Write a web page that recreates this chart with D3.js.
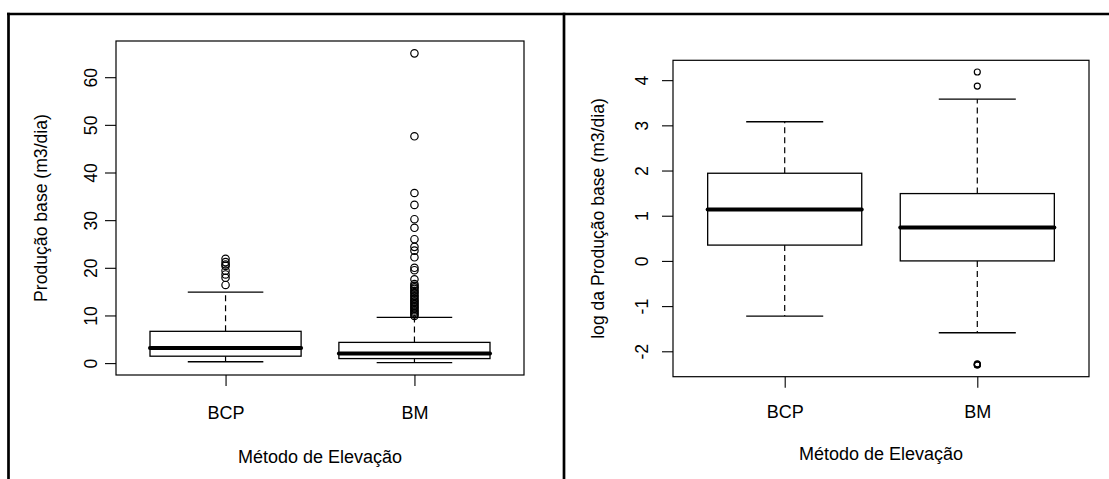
<!DOCTYPE html>
<html>
<head>
<meta charset="utf-8">
<script src="https://cdn.jsdelivr.net/npm/d3@7"></script>
<style>
  body { margin: 0; background: #fff; }
  svg { display: block; }
  text { font-family: "Liberation Sans", Arial, Helvetica, sans-serif; fill: #000; }
</style>
</head>
<body>
<svg id="chart" width="1109" height="479"></svg>
<script>
// Lift methods
const categories = ["BCP", "BM"];

// Base production (m3/dia): [lower whisker, Q1, median, Q3, upper whisker]
const rawStats = [
  [0.28, 1.45, 3.16, 6.67, 14.9],
  [0.1, 0.95, 2.04, 4.35, 9.6]
];
const rawOutliers = [
  [21.9, 21.2, 20.7, 20.4, 19.4, 18.6, 17.9, 16.4],
  [65.0, 47.6, 35.7, 33.2, 30.2, 28.4, 26.0, 24.4, 23.6, 22.2, 20.0, 19.5,
   17.6, 16.6, 16.2, 15.9, 15.6, 15.2, 14.9, 14.6, 14.2, 13.9, 13.5, 13.2,
   12.9, 12.6, 12.3, 12.0, 11.7, 11.4, 11.1, 10.8, 10.5, 10.2, 9.9]
];
const rawTicks = [0, 10, 20, 30, 40, 50, 60];

// Natural log of base production: [lower whisker, Q1, median, Q3, upper whisker]
const logStats = [
  [-1.22, 0.35, 1.14, 1.94, 3.08],
  [-1.59, 0.0, 0.74, 1.49, 3.58]
];
const logOutliers = [
  [],
  [4.18, 3.87, -2.303, -2.303, -2.29, -2.28]
];
const logTicks = [-2, -1, 0, 1, 2, 3, 4];

const svg = d3.select("#chart");

// Outer frame of the figure
const frame = svg.append("g").attr("stroke", "#000").attr("stroke-width", 2.7).attr("fill", "none");
frame.append("line").attr("x1", 7).attr("x2", 1109).attr("y1", 14).attr("y2", 14);
frame.append("line").attr("x1", 8.5).attr("x2", 8.5).attr("y1", 12.7).attr("y2", 479);
frame.append("line").attr("x1", 564).attr("x2", 564).attr("y1", 12.7).attr("y2", 479);

// R-style axis range: data extent padded by 4% on each side
function padded(lo, hi) {
  const r = hi - lo;
  return [lo - 0.04 * r, hi + 0.04 * r];
}

function drawPanel(cfg) {
  const { stats, outliers, ticks, box, yTitle } = cfg;
  const all = stats.flat().concat(outliers.flat());
  const y = d3.scaleLinear().domain(padded(d3.min(all), d3.max(all))).range([box.y1, box.y0]);
  const x = d3.scaleLinear().domain(padded(0.5, categories.length + 0.5)).range([box.x0, box.x1]);
  const g = svg.append("g");
  const fs = 17.6;

  // y axis
  const ya = g.append("g").attr("transform", `translate(${box.x0},0)`)
    .call(d3.axisLeft(y).tickValues(ticks).tickSize(11).tickFormat((d) => String(d)));
  ya.select(".domain").remove();
  ya.selectAll(".tick line").attr("stroke", "#000").attr("stroke-width", 1.1);
  ya.selectAll(".tick text")
    .attr("x", null).attr("dy", null)
    .attr("text-anchor", "middle")
    .attr("font-size", fs)
    .attr("font-family", null)
    .attr("fill", "#000")
    .attr("transform", `translate(${cfg.tickLabelX - box.x0},0) rotate(-90)`);

  // x axis
  const xa = g.append("g").attr("transform", `translate(0,${box.y1})`)
    .call(d3.axisBottom(x).tickValues(categories.map((c, i) => i + 1)).tickSize(11)
      .tickFormat((d) => categories[d - 1]));
  xa.select(".domain").remove();
  xa.selectAll(".tick line").attr("stroke", "#000").attr("stroke-width", 1.1);
  xa.selectAll(".tick text")
    .attr("y", cfg.xLabelY - box.y1).attr("dy", null)
    .attr("font-size", fs + 0.4)
    .attr("font-family", null)
    .attr("fill", "#000");

  // axis titles
  g.append("text")
    .attr("transform", `translate(${cfg.yTitleX},${(box.y0 + box.y1) / 2}) rotate(-90)`)
    .attr("text-anchor", "middle").attr("font-size", fs).text(yTitle);
  g.append("text")
    .attr("x", (box.x0 + box.x1) / 2).attr("y", cfg.xTitleY)
    .attr("text-anchor", "middle").attr("font-size", fs + 0.4).text("Método de Elevação");

  // boxes
  const half = 0.4, staple = 0.2;
  stats.forEach((s, i) => {
    const c = i + 1;
    const bg = g.append("g").attr("stroke", "#000").attr("fill", "none");
    // whiskers (dashed)
    bg.append("line").attr("x1", x(c)).attr("x2", x(c)).attr("y1", y(s[3])).attr("y2", y(s[4]))
      .attr("stroke-width", 1.2).attr("stroke-dasharray", "6,4");
    bg.append("line").attr("x1", x(c)).attr("x2", x(c)).attr("y1", y(s[1])).attr("y2", y(s[0]))
      .attr("stroke-width", 1.2).attr("stroke-dasharray", "6,4");
    // whisker caps
    [s[0], s[4]].forEach((v) => {
      bg.append("line").attr("x1", x(c - staple)).attr("x2", x(c + staple))
        .attr("y1", y(v)).attr("y2", y(v)).attr("stroke-width", 1.3);
    });
    // box
    bg.append("rect").attr("x", x(c - half)).attr("width", x(c + half) - x(c - half))
      .attr("y", y(s[3])).attr("height", y(s[1]) - y(s[3]))
      .attr("fill", "#fff").attr("stroke-width", 1.3);
    // median
    bg.append("line").attr("x1", x(c - half)).attr("x2", x(c + half))
      .attr("y1", y(s[2])).attr("y2", y(s[2]))
      .attr("stroke-width", 4).attr("stroke-linecap", "round");
    // outliers
    bg.selectAll("circle.out").data(outliers[i]).enter().append("circle")
      .attr("class", "out")
      .attr("cx", x(c)).attr("cy", (d) => y(d)).attr("r", cfg.r)
      .attr("stroke-width", 1.2).attr("fill", "none");
  });

  // plot frame
  g.append("rect").attr("x", box.x0).attr("y", box.y0)
    .attr("width", box.x1 - box.x0).attr("height", box.y1 - box.y0)
    .attr("fill", "none").attr("stroke", "#000").attr("stroke-width", 1.2);
}

drawPanel({
  stats: rawStats, outliers: rawOutliers, ticks: rawTicks,
  box: { x0: 116, x1: 524, y0: 41, y1: 375 },
  tickLabelX: 96.5, yTitleX: 47, xLabelY: 419, xTitleY: 463, r: 3.7,
  yTitle: "Produção base (m3/dia)"
});

drawPanel({
  stats: logStats, outliers: logOutliers, ticks: logTicks,
  box: { x0: 673, x1: 1089, y0: 60.3, y1: 376.7 },
  tickLabelX: 647.5, yTitleX: 604, xLabelY: 418.5, xTitleY: 459.5, r: 3.0,
  yTitle: "log da Produção base (m3/dia)"
});
</script>
</body>
</html>
